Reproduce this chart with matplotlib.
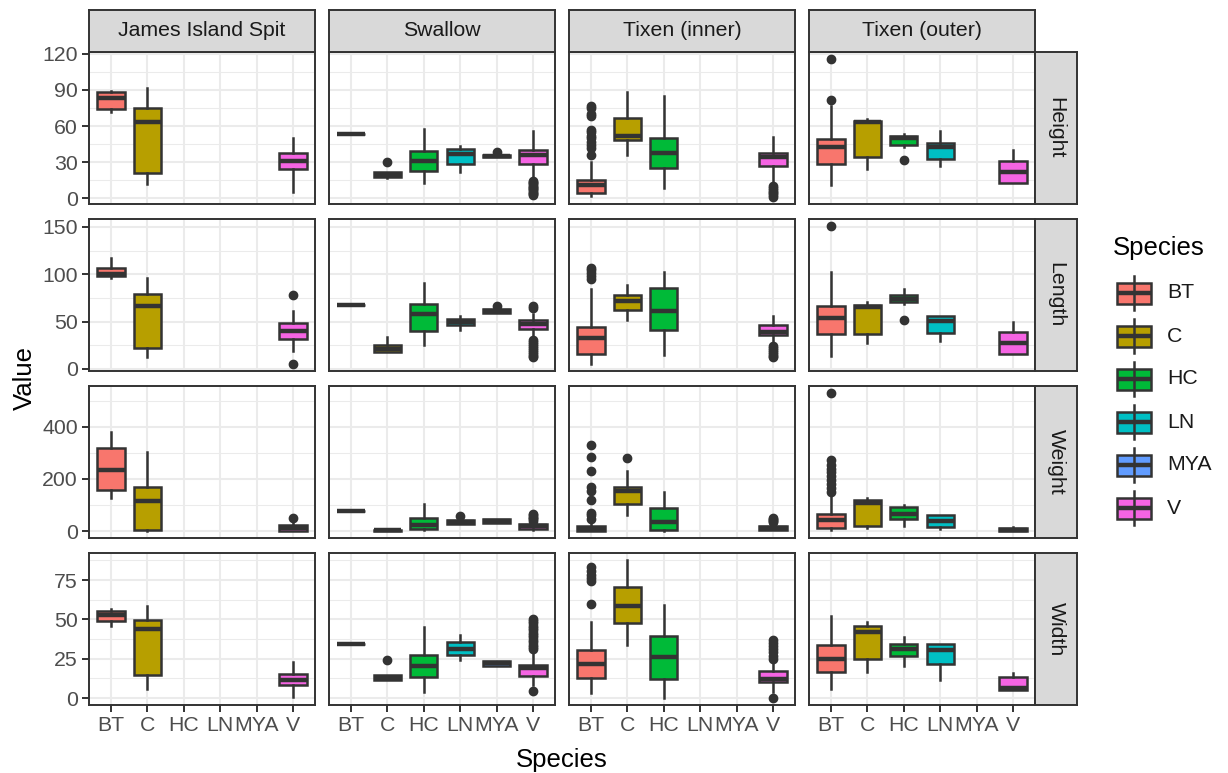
import matplotlib
matplotlib.use("Agg")
import matplotlib.pyplot as plt
from matplotlib.patches import Rectangle
from matplotlib.lines import Line2D
from matplotlib.ticker import MultipleLocator

plt.rcParams["font.family"] = ["Liberation Sans", "DejaVu Sans"]

W, H = 1228, 773

species = ["BT", "C", "HC", "LN", "MYA", "V"]
sites = ["James Island Spit", "Swallow", "Tixen (inner)", "Tixen (outer)"]
measures = ["Height", "Length", "Weight", "Width"]
colors = ["#F8766D", "#B79F00", "#00BA38", "#00BFC4", "#619CFF", "#F564E3"]
tick_steps = [30, 50, 200, 25]

# (whisker low, q1, median, q3, whisker high) per species; None = no fish of that species
height_stats = {
    "James Island Spit": [(72, 74.5, 83, 88.5, 89.5), (11.5, 20.7, 63, 75, 91.5), None, None, None,
                          (5.3, 24, 30.7, 37.9, 50)],
    "Swallow": [(53, 53, 53, 53, 53), (17, 17.5, 19.5, 21.5, 22), (13, 22.4, 30.7, 39.3, 57.8),
                (22, 28.5, 36.5, 41.2, 43.4), (34, 34.5, 35, 36, 37), (16, 28.2, 35.7, 40.4, 55.6)],
    "Tixen (inner)": [(1.7, 4.7, 10.8, 15, 30.2), (35.7, 48.7, 52, 66.9, 88.2), (8.9, 25.5, 37.6, 50.3, 84.9),
                      None, None, (13.6, 26.9, 34.3, 37.9, 50.6)],
    "Tixen (outer)": [(11.4, 28.8, 42.6, 49, 77), (24, 34.3, 63.3, 64.5, 65.5), (43, 44.5, 50.3, 52, 53.6),
                      (26.5, 32.9, 42.6, 45.9, 55.6), None, (12.8, 12.8, 21.9, 30.7, 39.8)],
}
height_out = {
    ("Swallow", "C"): [30],
    ("Swallow", "MYA"): [38.5],
    ("Swallow", "V"): [2.5, 3.5, 4.5, 5.5, 6.5, 7.5, 8.5, 9.5, 10.5, 11.5, 12.5, 13.5, 14.5],
    ("Tixen (inner)", "BT"): [77, 75, 70, 68, 57, 55, 52, 50, 47, 44, 42, 36],
    ("Tixen (inner)", "V"): [1, 2.5, 4, 5.5, 7, 8.5, 10],
    ("Tixen (outer)", "BT"): [81.3, 115.8],
    ("Tixen (outer)", "HC"): [32],
}

length_stats = {
    "James Island Spit": [(95.8, 97.6, 100.5, 106, 116.6), (12, 21.9, 66.5, 78.9, 95.8), None, None, None,
                          (19, 31, 39.8, 48.6, 61.2)],
    "Swallow": [(67.3, 67.3, 67.3, 67.3, 67.3), (18, 18, 20.5, 25.3, 33.2), (25.3, 40.1, 57.8, 69, 90.8),
                (40.9, 46.1, 49, 52.5, 56), (58.5, 58.5, 60.6, 62.7, 62.7), (33, 41.9, 47.2, 51.4, 58)],
    "Tixen (inner)": [(5, 15.5, 32.4, 44.4, 84.2), (51.8, 62.3, 72, 78.1, 88.4), (14.8, 40.9, 61.2, 85.2, 102.4),
                      None, None, (27, 35.6, 39.1, 46.1, 56)],
    "Tixen (outer)": [(13.7, 36.6, 53.2, 65.9, 102.4), (26.8, 36.6, 65.5, 67.3, 70.1), (69, 70.1, 73.5, 78.1, 84.2),
                      (29.6, 37.7, 50.4, 56, 56), None, (15.5, 15.5, 27.1, 39.1, 49)],
}
length_out = {
    ("James Island Spit", "V"): [5, 78.5],
    ("Swallow", "MYA"): [66],
    ("Swallow", "V"): [64, 66, 12, 14, 16, 18, 20, 22, 24, 26, 28, 30],
    ("Tixen (inner)", "BT"): [95, 98, 101, 104, 106],
    ("Tixen (inner)", "V"): [12, 14, 16, 18, 20, 22, 24],
    ("Tixen (outer)", "BT"): [151],
    ("Tixen (outer)", "HC"): [51.4],
}

weight_stats = {
    "James Island Spit": [(128, 158.6, 235, 319.5, 381), (2, 2.7, 115, 168.6, 302.7), None, None, None,
                          (0, 0, 10, 23, 35)],
    "Swallow": [(76.6, 76.6, 76.6, 76.6, 76.6), (1, 2, 4, 6, 7), (5, 8, 22, 50, 105),
                (28, 28, 35, 42, 48), (32, 32, 40, 47.5, 47.5), (4, 6.5, 18, 28, 38)],
    "Tixen (inner)": [(0, 1, 8, 19, 38), (60, 102, 153, 170, 230), (2, 5, 35, 87, 150),
                      None, None, (3, 3, 12, 19, 30)],
    "Tixen (outer)": [(4, 10, 42, 64, 140), (10, 19, 106, 119, 128), (19, 47.5, 66.7, 92, 98.5),
                      (8, 15, 38, 60, 60), None, (0, 0, 5, 10, 15)],
}
weight_out = {
    ("James Island Spit", "V"): [48.7],
    ("Swallow", "LN"): [57],
    ("Swallow", "V"): [40, 45, 50, 55, 60, 65],
    ("Tixen (inner)", "BT"): [48, 60, 68, 120, 155, 168, 232, 285, 330],
    ("Tixen (inner)", "C"): [281],
    ("Tixen (inner)", "V"): [33, 37, 41, 45, 48.7],
    ("Tixen (outer)", "BT"): [150, 165, 180, 195, 210, 225, 240, 255, 271, 530],
}

width_stats = {
    "James Island Spit": [(46.1, 49.3, 52.5, 55.6, 56.7), (5.7, 14.5, 44, 49.9, 58.7), None, None, None,
                          (0.8, 8.2, 11.8, 15, 22.9)],
    "Swallow": [(34.5, 34.5, 34.5, 34.5, 34.5), (11.4, 11.4, 12.5, 14.5, 14.5), (4, 13.5, 20.4, 27.2, 45),
                (24, 27.2, 31, 35.6, 39.8), (20.4, 20.4, 22, 23.4, 23.4), (8.2, 14.1, 19.2, 21.3, 30)],
    "Tixen (inner)": [(3, 12.8, 21.9, 30.8, 48.6), (33.9, 47.8, 58.3, 70.3, 87.8), (0.2, 12, 26.1, 39.4, 59.4),
                      None, None, (4, 10.3, 12.4, 17.1, 24)],
    "Tixen (outer)": [(5.7, 16.6, 25, 33.5, 52.4), (16.6, 25, 42.3, 46.1, 48.6), (20.4, 26.5, 31.4, 34.5, 38.7),
                      (11.4, 21.5, 30.8, 34.5, 34.5), None, (5, 5, 6.5, 13.5, 16)],
}
width_out = {
    ("Swallow", "C"): [24],
    ("Swallow", "V"): [4.6, 31, 32.5, 34, 35.5, 37, 38.5, 40, 41.5, 43, 44.5, 46, 47.5, 49, 50.5],
    ("Tixen (inner)", "BT"): [59.8, 74.5, 76.5, 78.5, 80.5, 83],
    ("Tixen (inner)", "V"): [0, 25, 27, 29, 31, 33, 35, 36.6],
}

all_stats = [height_stats, length_stats, weight_stats, width_stats]
all_out = [height_out, length_out, weight_out, width_out]

# layout in pixels
col_x0 = [89, 329, 569, 809]
panel_w = 226
row_y0 = [52, 219, 386, 553]
panel_h = 152
strip = 42

EDGE = "#333333"
GRID = "#EBEBEB"
TXT = 15.3


def px_rect(x0, y0, w, h):
    return [x0 / W, 1 - (y0 + h) / H, w / W, h / H]


def row_limits(stats, outs):
    vals = []
    for site in sites:
        for s in stats[site]:
            if s is not None:
                vals.extend(s)
    for v in outs.values():
        vals.extend(v)
    lo, hi = min(vals), max(vals)
    pad = 0.05 * (hi - lo)
    return lo - pad, hi + pad


def strip_axes(rect, label, rot):
    sax = fig.add_axes(rect)
    sax.set_facecolor("#D9D9D9")
    sax.set_xticks([]); sax.set_yticks([])
    for sp_ in sax.spines.values():
        sp_.set_color(EDGE); sp_.set_linewidth(1.4)
    sax.text(0.5, 0.5, label, ha="center", va="center", fontsize=TXT, color="#1A1A1A",
             rotation=rot, transform=sax.transAxes)


fig = plt.figure(figsize=(W / 100, H / 100), dpi=100)

for r, meas in enumerate(measures):
    stats, outs = all_stats[r], all_out[r]
    ylim = row_limits(stats, outs)
    for c, site in enumerate(sites):
        ax = fig.add_axes(px_rect(col_x0[c], row_y0[r], panel_w, panel_h))
        bstats, pos, cols = [], [], []
        for i, sp in enumerate(species):
            s = stats[site][i]
            if s is None:
                continue
            lo, q1, med, q3, hi = s
            bstats.append(dict(whislo=lo, q1=q1, med=med, q3=q3, whishi=hi,
                               fliers=outs.get((site, sp), [])))
            pos.append(i)
            cols.append(colors[i])
        bp = ax.bxp(bstats, positions=pos, widths=0.75, patch_artist=True, showcaps=False,
                    boxprops=dict(edgecolor=EDGE, linewidth=1.8),
                    medianprops=dict(color=EDGE, linewidth=3.2, solid_capstyle="butt"),
                    whiskerprops=dict(color=EDGE, linewidth=1.8),
                    flierprops=dict(marker="o", markerfacecolor=EDGE, markeredgecolor=EDGE,
                                    markersize=6))
        for patch, col in zip(bp["boxes"], cols):
            patch.set_facecolor(col)
        ax.set_xlim(-0.6, len(species) - 0.4)
        ax.set_ylim(*ylim)
        ax.set_xticks(range(len(species)))
        ax.yaxis.set_major_locator(MultipleLocator(tick_steps[r]))
        ax.yaxis.set_minor_locator(MultipleLocator(tick_steps[r] / 2))
        ax.set_axisbelow(True)
        ax.grid(True, which="major", color=GRID, linewidth=1.5)
        ax.grid(True, which="minor", axis="y", color=GRID, linewidth=0.75)
        for sp_ in ax.spines.values():
            sp_.set_color(EDGE)
            sp_.set_linewidth(1.4)
        ax.tick_params(which="minor", length=0)
        ax.tick_params(which="major", color=EDGE, width=1.4, length=5, labelsize=TXT,
                       labelcolor="#4D4D4D", pad=3)
        if c == 0:
            ax.set_yticks([t for t in ax.get_yticks() if ylim[0] <= t <= ylim[1]])
        else:
            ax.tick_params(axis="y", left=False, labelleft=False)
        if r == len(measures) - 1:
            ax.set_xticklabels(species)
        else:
            ax.tick_params(axis="x", bottom=False, labelbottom=False)

        if r == 0:
            strip_axes(px_rect(col_x0[c], row_y0[0] - strip, panel_w, strip), site, 0)
        if c == len(sites) - 1:
            strip_axes(px_rect(col_x0[c] + panel_w, row_y0[r], strip, panel_h), meas, -90)

# axis titles
fig.text(562 / W, 1 - 760 / H, "Species", ha="center", va="center", fontsize=18.5)
fig.text(25 / W, 1 - 378 / H, "Value", ha="center", va="center", fontsize=18.5, rotation=90)

# legend drawn in pixel space
lax = fig.add_axes([0, 0, 1, 1])
lax.set_xlim(0, W)
lax.set_ylim(H, 0)
lax.axis("off")
lax.text(1113, 248, "Species", ha="left", va="center", fontsize=18.5)
key = 42
for i, sp in enumerate(species):
    cy = 293 + i * 43
    x0 = 1113
    lax.add_line(Line2D([x0 + key / 2] * 2, [cy - 0.4 * key, cy + 0.4 * key], color=EDGE, lw=1.8))
    lax.add_patch(Rectangle((x0 + 0.1 * key, cy - 0.25 * key), 0.8 * key, 0.5 * key,
                            facecolor=colors[i], edgecolor=EDGE, lw=1.8))
    lax.add_line(Line2D([x0 + 0.1 * key, x0 + 0.9 * key], [cy, cy], color=EDGE, lw=3.2,
                        solid_capstyle="butt"))
    lax.text(x0 + key + 12, cy, sp, ha="left", va="center", fontsize=TXT, color="#1A1A1A")

fig.savefig("out.png", dpi=100)
